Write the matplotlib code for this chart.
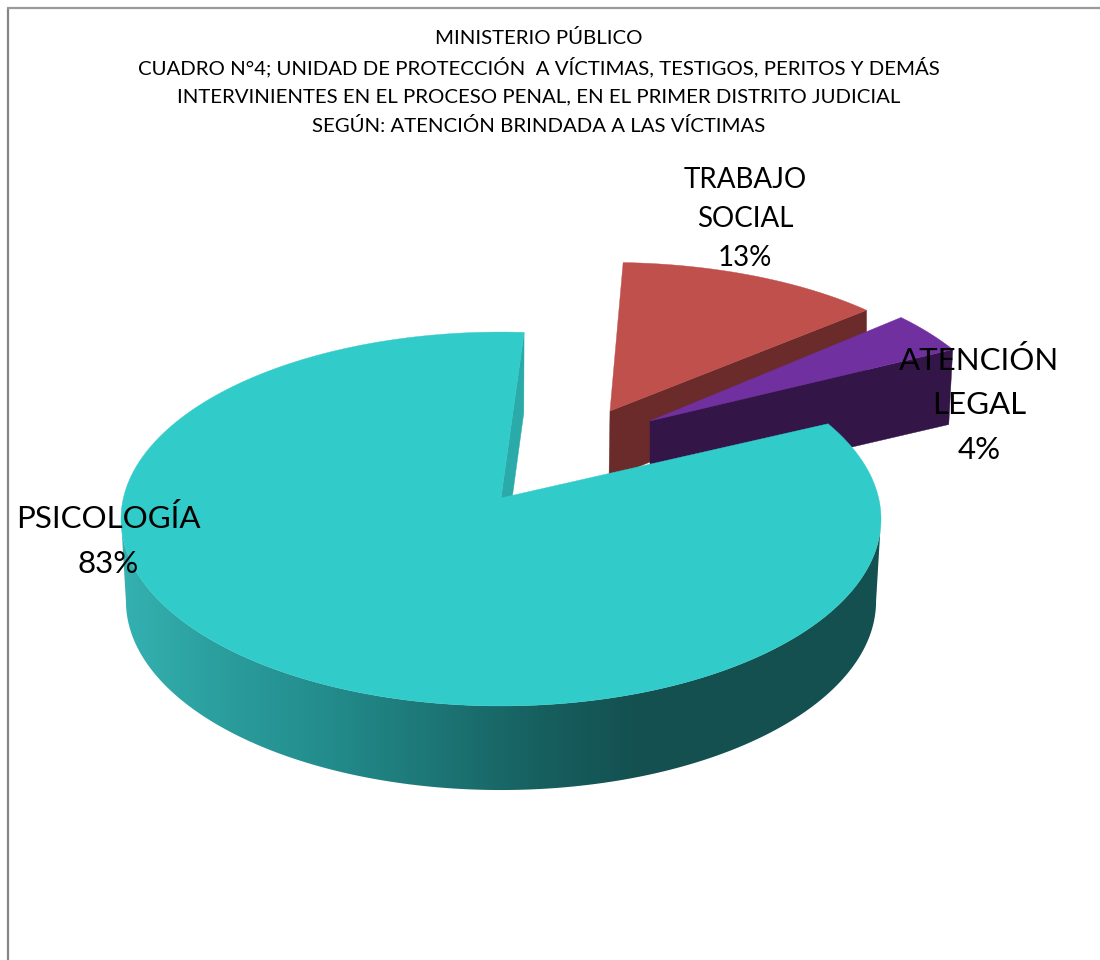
import numpy as np
import matplotlib
matplotlib.use('Agg')
import matplotlib.pyplot as plt
from matplotlib.colors import LinearSegmentedColormap

categories = ['PSICOLOGÍA', 'TRABAJO\nSOCIAL', 'ATENCIÓN\nLEGAL']
values = [83, 13, 4]
title_lines = ['MINISTERIO PÚBLICO',
               'CUADRO N°4; UNIDAD DE PROTECCIÓN  A VÍCTIMAS, TESTIGOS, PERITOS Y DEMÁS',
               'INTERVINIENTES EN EL PROCESO PENAL, EN EL PRIMER DISTRITO JUDICIAL',
               'SEGÚN: ATENCIÓN BRINDADA A LAS VÍCTIMAS']

# perspective of the pie, all in pixels of the picture
start = 86.1
a = 377.6
b = 184.6
k = 0.1123

plt.rcParams['font.family'] = ['Lato', 'DejaVu Sans']

fig = plt.figure(figsize=(11, 9.6), dpi=100)
ax = fig.add_axes([0, 0, 1, 1])
ax.axis('off')


def arc(th1, th2, x0, y0, su=1.0, sv=1.0, n=300):
    t = np.radians(np.linspace(th1, th2, n))
    d = 1 + k * np.sin(t)
    return x0 + su * a * np.cos(t) / d, y0 - sv * b * np.sin(t) / d


def face(x, y, color):
    return ax.fill(x, y, color=color, lw=0.3)[0]


# angles go clockwise from the start through the gap
psi = 3.6 * values[0]
soc = 3.6 * values[1]
leg = 3.6 * values[2]
end_soc = start - soc
end_leg = end_soc - leg

# trabajo social
xa, ya = arc(start + 1.6, end_soc + 1.6, 610, 411, 0.965, 0.895)
face([610, xa[-1], xa[-1], 609], [411, ya[-1], ya[-1] + 62, 479], '#6b2b2a')
face(np.r_[610, xa], np.r_[411, ya], '#bf504c')

# atencion legal
xa, ya = arc(end_soc + 1, end_leg + 1, 650, 421, 0.935, 0.93)
face([650, xa[-1], xa[-1] - 4, 650], [421, ya[-1], ya[-1] + 75, 494], '#331548')
face(np.r_[650, xa], np.r_[421, ya], '#7030a0')

# psicologia: side with the gradient across x, cut, top
side = LinearSegmentedColormap.from_list('side', ['#34b0b0', '#2a9c9c', '#238b8b', '#1d7676', '#176060', '#145050'])
tang = np.degrees(np.arcsin(k))
xt, yt = arc(-tang, -180 + tang, 501, 498)
xb, yb = arc(-tang, -180 + tang, 501, 580, 0.987, 1.01)
side_poly = face(np.r_[xt, xb[::-1]], np.r_[yt, yb[::-1]], 'none')
gx = np.clip((np.linspace(100, 900, 800) - 126) / (640 - 126), 0, 1)
im = ax.imshow(gx[None, :], cmap=side, aspect='auto', extent=(100, 900, 800, 400), zorder=1)
im.set_clip_path(side_poly)

xt, yt = arc(start, start, 501, 498, n=1)
xb, yb = arc(start, start, 501, 580, 0.987, 1.01, n=1)
face([501, xt[0], xb[0], 501], [498, yt[0], yb[0], 580], '#2aabaa').set_zorder(2)

xa, ya = arc(start, start + psi, 501, 498, n=500)
face(np.r_[501, xa], np.r_[498, ya], '#31cbc9').set_zorder(3)

# frame
ax.plot([8, 8], [960, 8], color='#868686', lw=1.6, zorder=4, solid_capstyle='butt')
ax.plot([7, 1100], [8, 8], color='#9a9a9a', lw=1.6, zorder=4, solid_capstyle='butt')

# title
for i, line in enumerate(title_lines):
    ax.text(538.5, 38 + i * 29.3, line, ha='center', va='center', fontsize=14.7, color='black', zorder=5)

# data labels
pos = [(108, 541), (745, 219), (979, 405)]
sizes = [22.5, 20, 22.5]
spacing = [1.7, 1.62, 1.7]
for cat, val, (x, y), fs, ls in zip(categories, values, pos, sizes, spacing):
    ax.text(x, y, '%s\n%d%%' % (cat, val), ha='center', va='center', fontsize=fs,
            color='black', linespacing=ls, zorder=5)

ax.set_xlim(0, 1100)
ax.set_ylim(960, 0)
fig.savefig('out.png', dpi=100)
